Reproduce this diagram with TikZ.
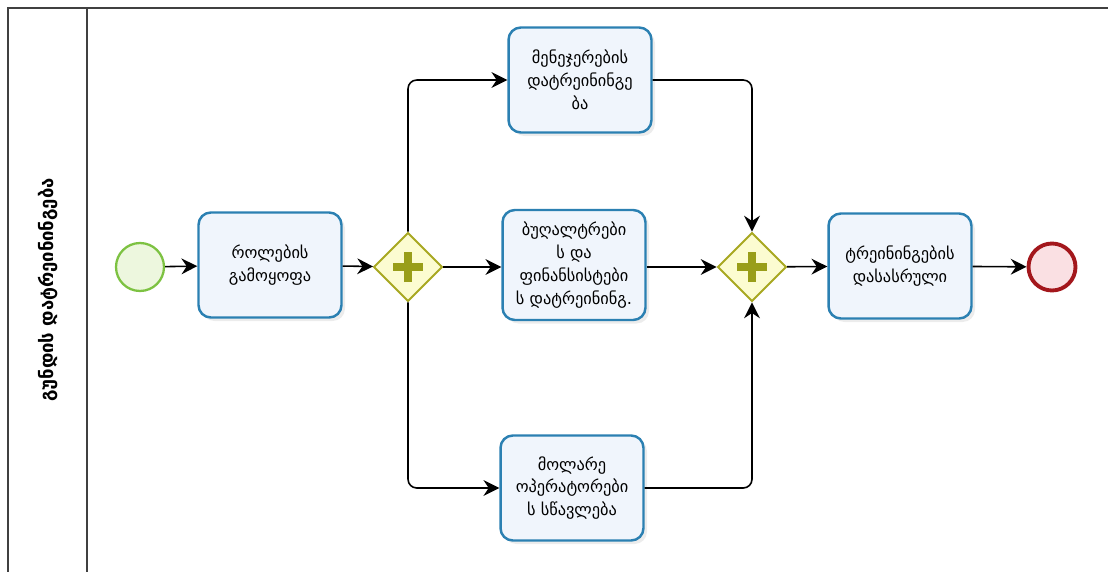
\documentclass[tikz,border=0pt]{standalone}
\usepackage{fontspec}
\newfontfamily\geofont{DejaVu Sans}
\usepackage{xcolor}
\definecolor{taskborder}{rgb}{0.17, 0.50, 0.70}
\definecolor{taskfill}{rgb}{0.94, 0.96, 0.99}
\definecolor{gateborder}{rgb}{0.66, 0.66, 0.13}
\definecolor{gatefill}{rgb}{0.99, 0.99, 0.82}
\definecolor{plusolive}{rgb}{0.60, 0.62, 0.10}
\definecolor{startgreen}{rgb}{0.49, 0.76, 0.26}
\definecolor{startfill}{rgb}{0.93, 0.97, 0.87}
\definecolor{endred}{rgb}{0.64, 0.09, 0.11}
\definecolor{endfill}{rgb}{0.98, 0.88, 0.89}
\usepackage{tikz}
\usetikzlibrary{shapes.geometric, arrows.meta, shadows}
\tikzstyle{task} = [rectangle, rounded corners=7pt, draw=taskborder, line width=1.4pt, fill=taskfill, minimum height=2.1cm, minimum width=2.86cm, inner sep=2pt, align=center, font=\geofont\fontsize{9.3}{13}\selectfont, drop shadow={opacity=0.15, shadow xshift=2pt, shadow yshift=-2pt}]
\tikzstyle{gate} = [diamond, draw=gateborder, line width=1.1pt, fill=gatefill, minimum width=1.38cm, minimum height=1.38cm, inner sep=0pt]
\tikzstyle{flow} = [line width=0.9pt, rounded corners=5pt, -{Stealth[length=9pt, width=9pt, inset=3pt]}]

\begin{document}
\begin{tikzpicture}[x=0.02cm, y=-0.02cm]

    \useasboundingbox (0,0) rectangle (1108,571);

    % pool and lane
    \draw[line width=1.3pt, draw=black!75] (8,580) -- (8,8) -- (1108,8);
    \draw[line width=1.3pt, draw=black!75] (87,8) -- (87,580);
    \node (laneLabel) [rotate=90, font=\geofont\bfseries\fontsize{10.5}{12}\selectfont] at (48,290) {გუნდის დატრეინინგება};

    % events
    \node (startEvent) [circle, draw=startgreen, line width=1.3pt, fill=startfill, minimum size=0.96cm] at (140,267) {};
    \node (endEvent) [circle, draw=endred, line width=2.2pt, fill=endfill, minimum size=0.94cm] at (1052,267) {};

    % tasks
    \node (rolesTask) [task] at (270,265) {როლების\\გამოყოფა};
    \node (managersTask) [task] at (580,80) {მენეჯერების\\დატრეინინგე\\ბა};
    \node (financeTask) [task, minimum height=2.2cm] at (574,265) {ბუღალტრები\\ს და\\ფინანსისტები\\ს დატრეინინგ.};
    \node (cashierTask) [task] at (572,488) {მოლარე\\ოპერატორები\\ს სწავლება};
    \node (finishTask) [task] at (900,266) {ტრეინინგების\\დასასრული};

    % gateways
    \node (splitGate) [gate] at (408,267) {};
    \node (joinGate) [gate] at (752,267) {};
    \foreach \g in {splitGate, joinGate} {
        \draw[plusolive, line width=4pt] ([yshift=-0.3cm]\g.center) -- ([yshift=0.3cm]\g.center);
        \draw[plusolive, line width=4pt] ([xshift=-0.3cm]\g.center) -- ([xshift=0.3cm]\g.center);
    }

    % sequence flows
    \draw[flow] (startEvent) -- (rolesTask);
    \draw[flow] (rolesTask) -- (splitGate);
    \draw[flow] (splitGate.north) |- (managersTask.west);
    \draw[flow] (splitGate.east) -- (financeTask.west |- splitGate.east);
    \draw[flow] (splitGate.south) |- (cashierTask.west);
    \draw[flow] (managersTask.east) -| (joinGate.north);
    \draw[flow] (financeTask.east |- joinGate.west) -- (joinGate.west);
    \draw[flow] (cashierTask.east) -| (joinGate.south);
    \draw[flow] (joinGate) -- (finishTask);
    \draw[flow] (finishTask) -- (endEvent);

\end{tikzpicture}
\end{document}
